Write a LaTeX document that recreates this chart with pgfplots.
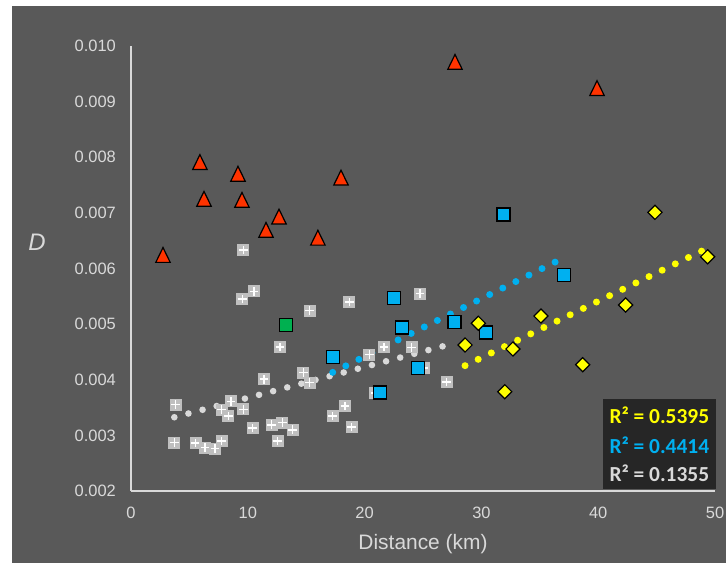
\documentclass[border=0pt]{standalone}
\usepackage{fontspec}
\setmainfont{Liberation Sans}
\newfontfamily\carlito{Carlito}
\usepackage{pgfplots}
\pgfplotsset{compat=1.18}
\definecolor{bg}{HTML}{595959}
\definecolor{lblc}{HTML}{D9D9D9}
\definecolor{boxc}{HTML}{262626}
\definecolor{redm}{HTML}{FF3300}
\definecolor{bluem}{HTML}{00B0F0}
\definecolor{greenm}{HTML}{00B050}
\definecolor{yelm}{HTML}{FFFF00}
\definecolor{plusfill}{HTML}{BFBFBF}
\definecolor{grayt}{HTML}{D9D9D9}
\pgfdeclareplotmark{sqplus}{%
  \pgfpathrectangle{\pgfqpoint{-\pgfplotmarksize}{-\pgfplotmarksize}}{\pgfqpoint{2\pgfplotmarksize}{2\pgfplotmarksize}}%
  \pgfsetfillcolor{plusfill}\pgfusepath{fill}%
  \pgfsetstrokecolor{white}\pgfsetlinewidth{1.4bp}%
  \pgfpathmoveto{\pgfqpoint{-0.72\pgfplotmarksize}{0pt}}\pgfpathlineto{\pgfqpoint{0.72\pgfplotmarksize}{0pt}}%
  \pgfpathmoveto{\pgfqpoint{0pt}{-0.72\pgfplotmarksize}}\pgfpathlineto{\pgfqpoint{0pt}{0.72\pgfplotmarksize}}%
  \pgfusepath{stroke}}
\pgfdeclareplotmark{tri}{%
  \pgfpathmoveto{\pgfqpoint{0pt}{\pgfplotmarksize}}%
  \pgfpathlineto{\pgfqpoint{0.95\pgfplotmarksize}{-0.95\pgfplotmarksize}}%
  \pgfpathlineto{\pgfqpoint{-0.95\pgfplotmarksize}{-0.95\pgfplotmarksize}}%
  \pgfpathclose
  \pgfusepathqfillstroke}
\begin{document}
\begin{tikzpicture}
\useasboundingbox (0,0) rectangle (726bp,563bp);
\fill[white] (0,0) rectangle (726bp,563bp);
\fill[bg] (12bp,0) rectangle (726bp,557bp);
\begin{axis}[
  at={(131bp,72bp)}, anchor=south west,
  scale only axis, width=584bp, height=445bp,
  xmin=0, xmax=50, ymin=0.002, ymax=0.010,
  clip=false,
  axis x line=bottom, axis y line=left,
  axis line style={-, draw=lblc, line width=2.5bp},
  major tick length=0pt,
  xtick={0,10,20,30,40,50},
  ytick={0.002,0.003,0.004,0.005,0.006,0.007,0.008,0.009,0.010},
  scaled y ticks=false,
  /pgf/number format/assume math mode=true,
  yticklabel style={/pgf/number format/fixed, /pgf/number format/fixed zerofill, /pgf/number format/precision=3, anchor=east, xshift=-15bp},
  tick label style={font=\fontsize{16.5}{18}\selectfont, text=lblc, inner sep=0pt},
  x tick label style={anchor=north, yshift=-16bp},
  xlabel={Distance (km)},
  xlabel style={font=\fontsize{21}{24}\selectfont, text=lblc, at={(axis description cs:0.5,0)}, anchor=base, yshift=-58bp, inner sep=0pt},
  ylabel={\textit{D}},
  ylabel style={font=\fontsize{24}{26}\selectfont, text=lblc, rotate=-90, at={(axis description cs:-0.161,0.56)}, anchor=center, inner sep=0pt},
]
% gray plus squares
\addplot[only marks, mark=sqplus, mark size=6bp] coordinates {
(9.62,0.00633) (10.53,0.00559) (9.53,0.00545) (15.3,0.00524) (12.76,0.00459)
(11.39,0.00401) (14.75,0.00413) (15.3,0.00395) (3.82,0.00355) (8.56,0.00361)
(7.76,0.00346) (9.62,0.00347) (8.33,0.00335) (10.42,0.00313) (12.05,0.00319)
(12.95,0.00323) (13.84,0.00310) (12.56,0.00290) (3.71,0.00287) (5.54,0.00286)
(6.34,0.00278) (7.19,0.00276) (7.76,0.00290) (18.7,0.00540) (24.74,0.00555)
(21.66,0.00459) (24.03,0.00458) (20.4,0.00445) (25.1,0.00421) (27.03,0.00396)
(18.32,0.00353) (17.27,0.00335) (18.88,0.00315) (20.9,0.00376)
};
% green square
\addplot[only marks, mark=square*, mark size=6.5bp, mark options={fill=greenm, draw=black, line width=1.3bp}] coordinates {(13.27,0.00499)};
% blue squares
\addplot[only marks, mark=square*, mark size=6.5bp, mark options={fill=bluem, draw=black, line width=1.3bp}] coordinates {
(17.3,0.00441) (21.3,0.00377) (22.5,0.005475) (23.2,0.00494) (24.6,0.00421)
(27.7,0.00504) (30.4,0.00485) (31.9,0.00697) (37.1,0.00588)
};
% red triangles
\addplot[only marks, mark=tri, mark size=7.6bp, mark options={fill=redm, draw=black, line width=1.2bp}] coordinates {
(2.74,0.00624) (5.9,0.00791) (6.25,0.00725) (9.16,0.00770) (9.5,0.00723)
(11.56,0.00669) (12.67,0.00693) (16.0,0.00655) (17.98,0.00763) (27.74,0.00971) (39.9,0.00924)
};
% yellow diamonds
\addplot[only marks, mark=square*, mark size=5bp, mark options={rotate=45, fill=yelm, draw=black, line width=1.2bp}] coordinates {
(44.86,0.00701) (49.37,0.00621) (42.35,0.005344) (35.1,0.005146) (29.74,0.005015)
(28.6,0.004625) (32.7,0.004553) (38.67,0.004271) (32.0,0.003785)
};
% trendlines
\addplot[grayt, line width=6.6bp, line cap=round, dash pattern=on 0pt off 14.6bp, no marks] coordinates {(3.71,0.003326) (27.03,0.004620)};
\addplot[bluem, line width=7bp, line cap=round, dash pattern=on 0pt off 14.6bp, no marks] coordinates {(17.27,0.004133) (37.1,0.006197)};
\addplot[yelm, line width=7bp, line cap=round, dash pattern=on 0pt off 14.6bp, no marks] coordinates {(28.6,0.004253) (49.37,0.006365)};
% R2 box
\fill[boxc] (axis cs:40.41,0.003654) rectangle (axis cs:50.09,0.002036);
\node[anchor=west, inner sep=0pt, text=yelm, font=\carlito\bfseries\fontsize{21.5}{23}\selectfont] at (axis cs:40.95,0.003361) {R² = 0.5395};
\node[anchor=west, inner sep=0pt, text=bluem, font=\carlito\bfseries\fontsize{21.5}{23}\selectfont] at (axis cs:40.95,0.002827) {R² = 0.4414};
\node[anchor=west, inner sep=0pt, text=lblc, font=\carlito\bfseries\fontsize{21.5}{23}\selectfont] at (axis cs:40.95,0.002318) {R² = 0.1355};
\end{axis}
\end{tikzpicture}
\end{document}
